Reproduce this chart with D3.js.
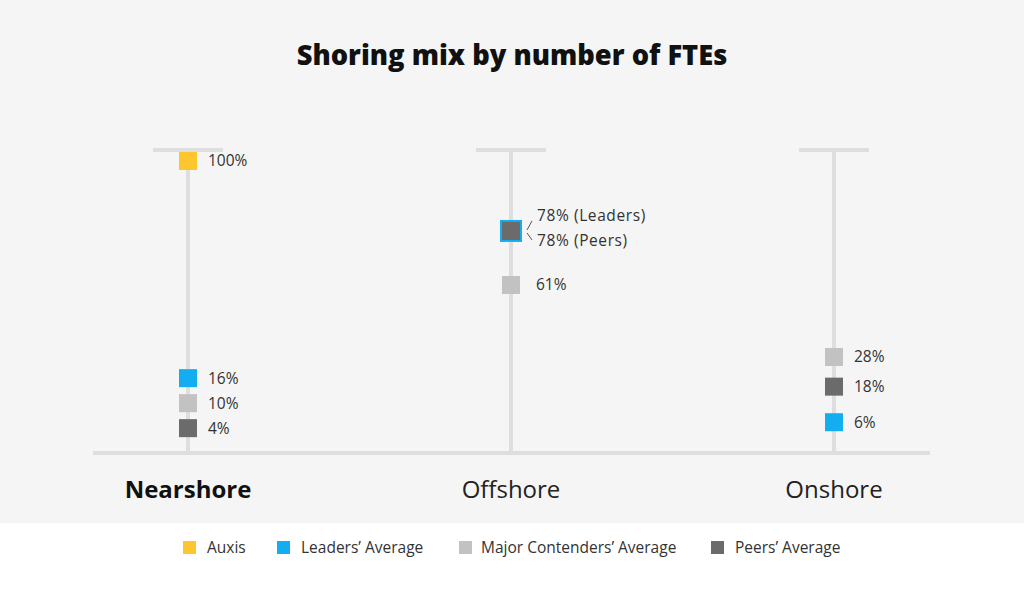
<!DOCTYPE html>
<html><head><meta charset="utf-8">
<script src="https://cdn.jsdelivr.net/npm/d3@7"></script>
<style>body{margin:0;background:#fff}svg{display:block}</style></head><body>
<svg id="c" width="1024" height="599"></svg>
<script>
const categories = ["Nearshore", "Offshore", "Onshore"];
const seriesNames = ["Auxis", "Leaders’ Average", "Major Contenders’ Average", "Peers’ Average"];
const seriesShort = ["Auxis", "Leaders", "Contenders", "Peers"];
const auxis = [100, null, null];
const leaders = [16, 78, 6];
const contenders = [10, 61, 28];
const peers = [4, 78, 18];
const seriesColors = ["#fdc62e", "#14aef0", "#c2c2c2", "#6b6b6b"];
const valueStops = [0, 28, 61, 100];

const FONT = "'Open Sans', sans-serif";
const svg = d3.select("#c");
const W = 1024, H = 599;

svg.append("rect").attr("width", W).attr("height", 523).attr("fill", "#f5f5f5");

// title
const title = svg.append("text").attr("x", W / 2).attr("y", 65).attr("text-anchor", "middle")
  .attr("font-family", FONT).attr("font-weight", 800).attr("font-size", 26).attr("fill", "#111")
  .text("Shoring mix by number of FTEs");
const tl = title.node().getComputedTextLength();
title.attr("font-size", 26 * 431 / tl);

const x = d3.scalePoint().domain(categories).range([188, 834]);
const y = d3.scaleLinear().domain(valueStops).range([440, 357, 285, 161]);
const baseY = 453, topY = 150;

// baseline
svg.append("line").attr("x1", 93).attr("x2", 930).attr("y1", baseY).attr("y2", baseY)
  .attr("stroke", "#dedede").attr("stroke-width", 4);
// stems
categories.forEach(c => {
  const cx = x(c);
  svg.append("line").attr("x1", cx).attr("x2", cx).attr("y1", topY).attr("y2", baseY)
    .attr("stroke", "#dedede").attr("stroke-width", 4);
  svg.append("line").attr("x1", cx - 35).attr("x2", cx + 35).attr("y1", topY).attr("y2", topY)
    .attr("stroke", "#dedede").attr("stroke-width", 4);
});

// category labels
categories.forEach((c, i) => {
  svg.append("text").attr("x", x(c)).attr("y", 498).attr("text-anchor", "middle")
    .attr("font-family", FONT).attr("font-size", 24)
    .attr("font-weight", i === 0 ? 700 : 400).attr("fill", i === 0 ? "#111" : "#222")
    .text(c);
});

const allSeries = [auxis, leaders, contenders, peers];
const SQ = 18, GAP = 25;
const LBL = 15.5;

categories.forEach((c, ci) => {
  const cx = x(c);
  let pts = [];
  allSeries.forEach((s, si) => { if (s[ci] != null) pts.push({ si, v: s[ci], y: y(s[ci]) }); });
  const groups = d3.groups(pts, p => p.v).map(([v, arr]) => ({ v, arr, y: y(v) }));
  groups.sort((a, b) => b.y - a.y);
  for (let i = 1; i < groups.length; i++) {
    groups[i].y = Math.min(groups[i].y, groups[i - 1].y - GAP);
  }
  const lx = ci === 1 ? cx + 25 : cx + 20;
  groups.forEach(g => {
    const yy = g.y;
    if (g.arr.length === 1) {
      const p = g.arr[0];
      svg.append("rect").attr("x", cx - SQ / 2).attr("y", yy - SQ / 2).attr("width", SQ).attr("height", SQ)
        .attr("fill", seriesColors[p.si]);
      svg.append("text").attr("x", lx).attr("y", yy).attr("dy", "0.35em")
        .attr("font-family", FONT).attr("font-size", LBL).attr("fill", "#333").text(g.v + "%");
    } else {
      g.arr.forEach((p, k) => {
        const s = SQ + (g.arr.length - 1 - k) * 4;
        svg.append("rect").attr("x", cx - s / 2).attr("y", yy - s / 2).attr("width", s).attr("height", s)
          .attr("fill", seriesColors[p.si]);
      });
      const offs = [-15, 10];
      g.arr.forEach((p, k) => {
        const oy = offs[k] !== undefined ? offs[k] : k * 25 - 15;
        svg.append("line").attr("x1", cx + 16).attr("y1", yy + (k === 0 ? -1 : 2))
          .attr("x2", cx + 21).attr("y2", yy + (k === 0 ? -10 : 9))
          .attr("stroke", "#555").attr("stroke-width", 1);
        svg.append("text").attr("x", cx + 26).attr("y", yy + oy).attr("dy", "0.35em")
          .attr("font-family", FONT).attr("font-size", LBL).attr("fill", "#333")
          .attr("letter-spacing", 0.6)
          .text(g.v + "% (" + seriesShort[p.si] + ")");
      });
    }
  });
});

// legend
const legendX = [183, 277, 459, 711];
seriesNames.forEach((n, i) => {
  svg.append("rect").attr("x", legendX[i]).attr("y", 541).attr("width", 13).attr("height", 13)
    .attr("fill", seriesColors[i]);
  svg.append("text").attr("x", legendX[i] + (i === 2 ? 22 : 24)).attr("y", 547.5).attr("dy", "0.35em")
    .attr("font-family", FONT).attr("font-size", 15.5).attr("fill", "#333").text(n);
});
</script>
</body></html>
